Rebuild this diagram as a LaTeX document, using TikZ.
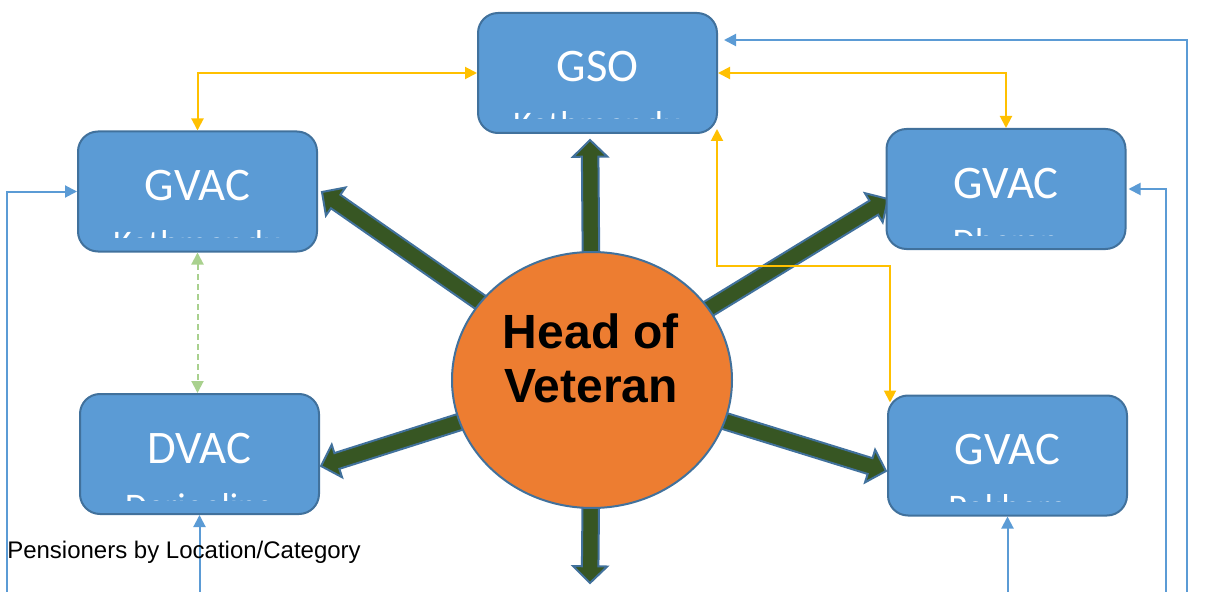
\documentclass[tikz,border=0pt]{standalone}
\usepackage{fontspec}
\setmainfont{Liberation Sans}
\newfontfamily\boxfont{Carlito}
\usetikzlibrary{arrows.meta,calc,shapes.geometric,backgrounds}
\definecolor{boxfill}{HTML}{5B9BD5}
\definecolor{boxline}{HTML}{41719C}
\definecolor{circfill}{HTML}{ED7D31}
\definecolor{darkgr}{HTML}{375623}
\definecolor{yel}{HTML}{FFC000}
\definecolor{lgreen}{HTML}{A9D18E}
\definecolor{bline}{HTML}{5B9BD5}
\tikzset{
  office/.style={rectangle, rounded corners=15pt, draw=boxline, fill=boxfill, line width=1.5pt,
    minimum width=179.25pt, minimum height=90pt, inner sep=0pt},
  headc/.style={ellipse, draw=boxline, fill=circfill, line width=1.5pt,
    minimum width=210pt, minimum height=192pt, inner sep=0pt},
  tline/.style={font=\boxfont\fontsize{35}{42}\selectfont, text=white, anchor=base, inner sep=0pt},
  tsub/.style={font=\boxfont\fontsize{27}{32}\selectfont, text=white, anchor=base, inner sep=0pt},
  headtxt/.style={font=\bfseries\fontsize{36}{43}\selectfont, anchor=base, inner sep=0pt},
  tip/.tip={Triangle[length=9pt,width=9pt]},
  yelline/.style={draw=yel, line width=1.5pt, {tip}-{tip}},
  grline/.style={draw=lgreen, line width=1.5pt, dash pattern=on 4.5pt off 3pt, {tip}-{tip}},
  bluline/.style={draw=bline, line width=1.5pt, -{tip}},
  barrow/.style={draw=boxline, fill=darkgr, line width=1.5pt, line join=miter},
}
\newcommand\officebox[5]{%
  \node[office] (#1) at (#2,#3) {};
  \begin{scope}
    \clip (#1.north west) rectangle ($(#1.south east)+(0,-15)$);
    \node[tline] (#1-a) at ($(#1.north)+(0,70)$) {#4};
    \node[tsub] (#1-b) at ($(#1.north)+(0,125)$) {#5};
  \end{scope}}
\newcommand\bigarrow[2]{%
  \path[barrow] let \p1=($(#2)-(#1)$), \n1={atan2(\y1,\x1)} in
    (#2) -- ($(#2)+({\n1+180}:12.5pt)+({\n1+90}:12.8pt)$)
    -- ($(#2)+({\n1+180}:12.5pt)+({\n1+90}:6.2pt)$)
    -- ($(#1)+({\n1+90}:6.2pt)$)
    -- ($(#1)+({\n1-90}:6.2pt)$)
    -- ($(#2)+({\n1+180}:12.5pt)+({\n1-90}:6.2pt)$)
    -- ($(#2)+({\n1+180}:12.5pt)+({\n1-90}:12.8pt)$) -- cycle;}
\begin{document}
\begin{tikzpicture}[x=0.75pt,y=-0.75pt]
\useasboundingbox (0,0) rectangle (1208,592);
\officebox{gso}{597.5}{73}{GSO}{Kathmandu}
\officebox{gk}{197.5}{191.5}{GVAC}{Kathmandu}
\officebox{gd}{1006}{189}{GVAC}{Dharan}
\officebox{dv}{199.5}{454}{DVAC}{Darjeeling}
\officebox{gp}{1007.5}{455.5}{GVAC}{Pokhara}
\node[headc] (hv) at (592,380) {};
\node[headtxt] (hv-a) at (591,348) {Head of};
\node[headtxt] (hv-b) at (591,402) {Veteran};
\coordinate (ta) at (590,140);
\coordinate (tb) at (590,583);
\coordinate (tc) at (322,192);
\coordinate (td) at (888,199);
\coordinate (te) at (321,466);
\coordinate (tf) at (886,471);
\begin{scope}[on background layer]
  \bigarrow{hv.center}{ta}
  \bigarrow{hv.center}{tb}
  \bigarrow{hv.center}{tc}
  \bigarrow{hv.center}{td}
  \bigarrow{hv.center}{te}
  \bigarrow{hv.center}{tf}
\end{scope}
\coordinate (e1) at (1187,592);
\coordinate (e2) at (7,592);
\coordinate (e3) at (199.5,592);
\coordinate (e4) at (1166,592);
\coordinate (e5) at (1007.5,592);
\draw[yelline] (gso.west) -| (gk.north);
\draw[yelline] (gso.east) -| (gd.north);
\draw[yelline] ([xshift=-0.75pt,yshift=3.75pt]gso.south east) -- ++(0,137) -| ([xshift=2.25pt,yshift=-6pt]gp.north west);
\draw[grline] (gk.south) -- (gk.south |- dv.north);
\draw[bluline] (e1) |- ([xshift=4.5pt,yshift=24.75pt]gso.east);
\draw[bluline] (e2) |- (gk.west);
\draw[bluline] (e3) -- (dv.south);
\draw[bluline] (e4) |- ([xshift=1.5pt]gd.east);
\draw[bluline] (e5) -- (gp.south);
\node[font=\fontsize{18}{21}\selectfont, anchor=base west, inner sep=0pt] (lbl) at (7,558) {Pensioners by Location/Category};
\end{tikzpicture}
\end{document}
